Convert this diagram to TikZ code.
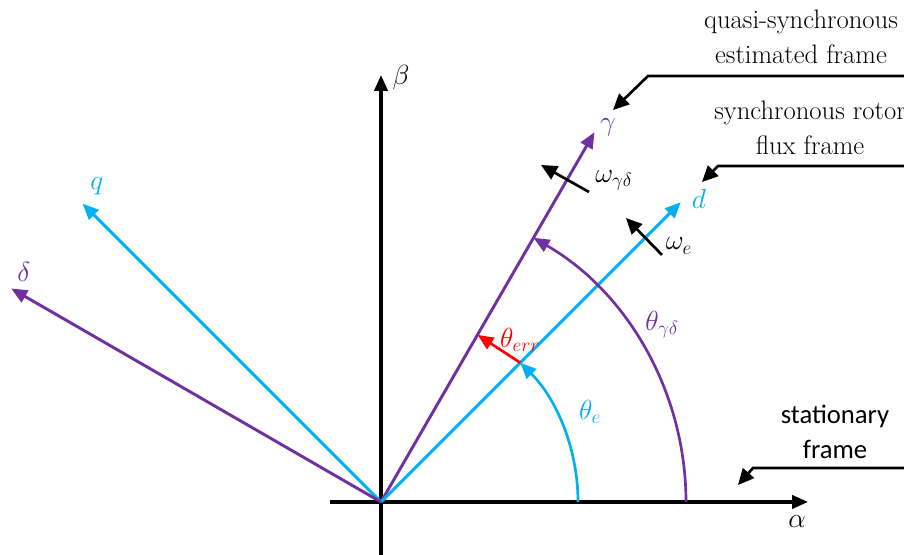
\documentclass[tikz,border=0pt]{standalone}
\usepackage{fontspec}
\newfontfamily\labsans{Carlito}
\usetikzlibrary{arrows.meta}
\definecolor{cyanl}{HTML}{00B0F0}
\definecolor{purp}{HTML}{7030A0}
\definecolor{redl}{HTML}{FF0000}
\tikzset{
  vec/.style={line width=2.2pt, -{Triangle[length=12pt,width=10pt]}},
  arcv/.style={line width=2pt, -{Triangle[length=12pt,width=10pt]}},
  axis/.style={line width=2.5pt, -{Triangle[length=12pt,width=10pt]}},
  lead/.style={line width=2pt, -{Triangle[length=12pt,width=11pt]}},
  glab/.style={font=\fontsize{20}{24}\selectfont, inner sep=0pt},
  flab/.style={font=\fontsize{20}{26}\selectfont, align=center, inner sep=0pt},
}
\begin{document}
\begin{tikzpicture}[x=0.75pt,y=0.75pt]
\useasboundingbox (-381,-53) rectangle (523,502);
\coordinate (O) at (0,0);
% axes
\coordinate (aS) at (-51,0);
\coordinate (aE) at (427,0);
\coordinate (bS) at (0,-53);
\coordinate (bE) at (0,427);
\draw[axis] (aS) -- (aE);
\draw[axis] (bS) -- (bE);
% frame vectors
\coordinate (gT) at (60:427);
\coordinate (dT) at (45:424);
\coordinate (qT) at (135:422);
\coordinate (deT) at (150:427);
\draw[vec, draw=purp] (O) -- (gT);
\draw[vec, draw=cyanl] (O) -- (dT);
\draw[vec, draw=cyanl] (O) -- (qT);
\draw[vec, draw=purp] (O) -- (deT);
% angle arcs
\coordinate (e0) at (197,0);
\coordinate (g0) at (305,0);
\coordinate (r0) at (45:197);
\coordinate (r1) at (60:193);
\draw[arcv, draw=cyanl] (e0) arc[start angle=0, end angle=45, radius=197];
\draw[arcv, draw=purp] (g0) arc[start angle=0, end angle=60, radius=305];
\draw[arcv, draw=redl] (r0) -- (r1);
% omega arrows
\coordinate (wg0) at (208,310);
\coordinate (wg1) at (160,337);
\coordinate (we0) at (281,247);
\coordinate (we1) at (245,284);
\draw[lead] (wg0) -- (wg1);
\draw[lead] (we0) -- (we1);
% labels
\node[glab] (lb) at (20,424) {$\beta$};
\node[glab] (la) at (416,-20) {$\alpha$};
\node[glab, text=cyanl] (lq) at (-284,316) {$q$};
\node[glab, text=purp] (lde) at (-357,230) {$\delta$};
\node[glab, text=purp] (lg) at (227,375) {$\gamma$};
\node[glab, text=cyanl] (ld) at (318,303) {$d$};
\node[glab] (lwg) at (233,322) {$\omega_{\gamma\delta}$};
\node[glab] (lwe) at (298,256) {$\omega_{e}$};
\node[glab, text=redl] (lte) at (139,162) {$\theta_{err}$};
\node[glab, text=cyanl] (lth) at (209,90) {$\theta_{e}$};
\node[glab, text=purp] (ltg) at (281,177) {$\theta_{\gamma\delta}$};
% frame labels
\node[flab] (fq) at (420,465) {quasi-synchronous\\estimated frame};
\node[flab] (fs) at (429,374) {synchronous rotor\\flux frame};
\node[flab, font=\fontsize{20}{26}\selectfont\labsans] (fst) at (454,70) {stationary\\frame};
% leaders
\coordinate (l1a) at (530,426);
\coordinate (l1b) at (267,426);
\coordinate (l1c) at (232,392);
\coordinate (l2a) at (530,336);
\coordinate (l2b) at (337,336);
\coordinate (l2c) at (321,320);
\coordinate (l3a) at (530,34);
\coordinate (l3b) at (372,34);
\coordinate (l3c) at (357,17);
\draw[lead] (l1a) -- (l1b) -- (l1c);
\draw[lead] (l2a) -- (l2b) -- (l2c);
\draw[lead] (l3a) -- (l3b) -- (l3c);
\end{tikzpicture}
\end{document}
